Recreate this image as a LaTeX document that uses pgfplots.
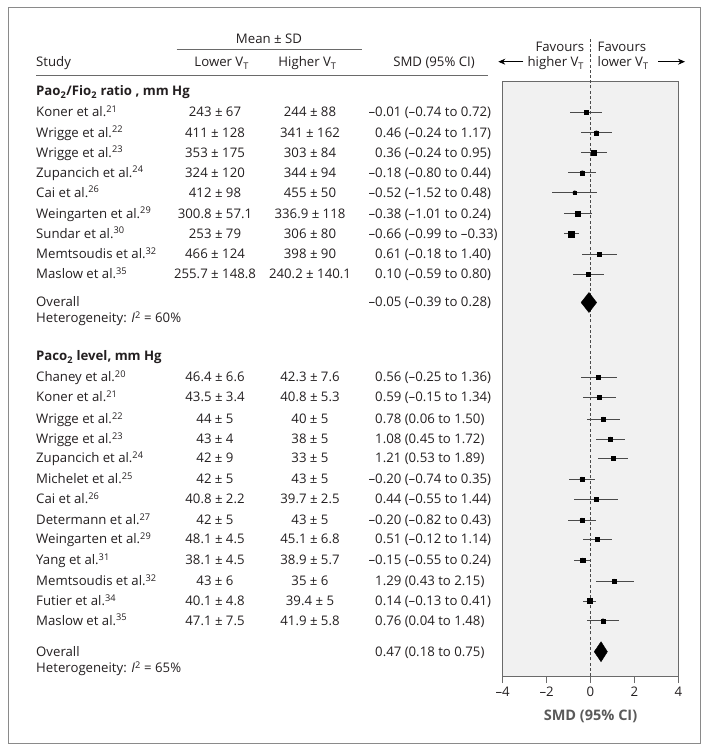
\documentclass[border=0pt]{standalone}
\usepackage{pgfplots}
\pgfplotsset{compat=1.18}
\usepackage{pgfplotstable}
\usepackage{fontspec}
\setmainfont{Open Sans}
\usetikzlibrary{arrows.meta}
\definecolor{txt}{HTML}{231F20}
\definecolor{frame}{HTML}{8A8A8A}
\definecolor{panel}{HTML}{F1F1F1}
\definecolor{ci}{HTML}{4A4A4A}
\definecolor{rule}{HTML}{6A6A6A}
\definecolor{lab}{HTML}{5A5A5A}

% y = pixel row of the study (drawn downward), m = point, lo/hi = CI ends, s = half side of square
\pgfplotstableread{
y m lo hi s
112.3 -0.20 -0.93 0.54 2
132.7 0.27 -0.45 0.99 2
152.7 0.16 -0.45 0.77 2.4
172.7 -0.37 -1.01 0.25 2
192.7 -0.72 -1.74 0.31 1.8
213.7 -0.57 -1.21 0.05 2.3
233.7 -0.87 -1.21 -0.51 3
254.3 0.40 -0.37 1.22 2
274.3 -0.10 -0.80 0.62 2
}\pao

\pgfplotstableread{
y m lo hi s
377.3 0.36 -0.45 1.19 2
397.3 0.39 -0.36 1.16 2
419.0 0.58 -0.16 1.34 2
439.0 0.90 0.25 1.56 2
458.3 1.03 0.33 1.71 2
479.0 -0.39 -0.96 0.19 2
499.3 0.25 -0.77 1.27 1.8
520.0 -0.39 -1.01 0.25 2
539.3 0.31 -0.33 0.96 2
560.0 -0.36 -0.75 0.04 2.3
581.0 1.08 0.24 1.97 1.8
601.0 -0.05 -0.34 0.24 2.5
620.7 0.57 -0.17 1.30 2
}\paco

\newcommand{\srow}[5]{%
 \node[anchor=base west,inner sep=0pt] at (36,{-(#1+4.6)}) {#2};
 \node[anchor=base,inner sep=0pt] at (215,{-(#1+4.6)}) {#3};
 \node[anchor=base,inner sep=0pt] at (310,{-(#1+4.6)}) {#4};
 \node[anchor=base west,inner sep=0pt] at (375,{-(#1+4.6)}) {#5};
}
\newcommand{\negm}{\llap{–}}
\newcommand{\VT}{V\textsubscript{T}}
\newcommand{\supr}[1]{\textsuperscript{#1}}

\begin{document}
\begin{tikzpicture}[x=1pt,y=1pt,font=\fontsize{13.2}{15.8}\selectfont,text=txt]
\useasboundingbox (0,0) rectangle (709,-752);
\draw[frame, line width=1.3pt] (8.3,-7.3) rectangle (700.7,-743.3);

\begin{axis}[at={(502.7pt,-676pt)}, anchor=south west, scale only axis,
  width=175.6pt, height=594.3pt,
  xmin=-4, xmax=4, ymin=-676, ymax=-81.7, clip=false,
  axis background/.style={fill=panel},
  axis line style={draw=rule, line width=0.8pt},
  ytick=\empty, xtick={-4,-2,0,2,4}, xticklabels={–4,–2,0,2,4},
  tick align=outside, xtick pos=bottom, major tick length=7pt,
  tick style={rule, line width=0.8pt},
  xticklabel style={text=txt, font=\fontsize{13.2}{15.8}\selectfont},
  /pgf/number format/assume math mode=true]
  \draw[ci, line width=0.7pt, dash pattern=on 3pt off 2.2pt] (axis cs:0,-676) -- (axis cs:0,-38);
  \addplot[only marks, mark=none, ci, forget plot,
    error bars/.cd, x dir=both, x explicit, error mark=none,
    error bar style={draw=ci, solid, line width=0.8pt}]
    table[x=m, y expr=-\thisrow{y}, x error minus expr=\thisrow{m}-\thisrow{lo}, x error plus expr=\thisrow{hi}-\thisrow{m}] {\pao};
  \addplot[only marks, mark=none, ci, forget plot,
    error bars/.cd, x dir=both, x explicit, error mark=none,
    error bar style={draw=ci, solid, line width=0.8pt}]
    table[x=m, y expr=-\thisrow{y}, x error minus expr=\thisrow{m}-\thisrow{lo}, x error plus expr=\thisrow{hi}-\thisrow{m}] {\paco};
  \addplot[scatter, only marks, mark=square*,
    scatter/use mapped color={draw=black, fill=black},
    visualization depends on={\thisrow{s} \as \pms},
    scatter/@pre marker code/.append style={/tikz/mark size=\pms}]
    table[x=m, y expr=-\thisrow{y}] {\pao};
  \addplot[scatter, only marks, mark=square*,
    scatter/use mapped color={draw=black, fill=black},
    visualization depends on={\thisrow{s} \as \pms},
    scatter/@pre marker code/.append style={/tikz/mark size=\pms}]
    table[x=m, y expr=-\thisrow{y}] {\paco};
  \addplot[fill=black, draw=black] coordinates {(-0.43,-302.5) (-0.07,-292.5) (0.28,-302.5) (-0.07,-312.5)} -- cycle;
  \addplot[fill=black, draw=black] coordinates {(0.17,-651.7) (0.48,-641.7) (0.77,-651.7) (0.48,-661.7)} -- cycle;
\end{axis}

% header
\node[anchor=base,inner sep=0pt] at (269,-43.5) {Mean ± SD};
\draw[rule, line width=0.8pt] (176.7,-49.3) -- (361.7,-49.3);
\node[anchor=base west,inner sep=0pt] at (36,-66.7) {Study};
\node[anchor=base,inner sep=0pt] at (221.7,-66.7) {Lower \VT};
\node[anchor=base,inner sep=0pt] at (307.5,-66.7) {Higher \VT};
\node[anchor=base,inner sep=0pt] at (434,-66.7) {SMD (95\% CI)};
\draw[rule, line width=0.8pt] (36,-75) -- (487.7,-75);
\node[anchor=base east,inner sep=0pt] at (584.3,-51.7) {Favours};
\node[anchor=base east,inner sep=0pt] at (584.3,-66.7) {higher \VT};
\node[anchor=base west,inner sep=0pt] at (597.5,-51.7) {Favours};
\node[anchor=base west,inner sep=0pt] at (597.5,-66.7) {lower \VT};
\draw[-{Stealth[length=7pt,width=6pt]}, black, line width=0.8pt] (523.3,-61.7) -- (498.3,-61.7);
\draw[-{Stealth[length=7pt,width=6pt]}, black, line width=0.8pt] (658.3,-61.7) -- (685,-61.7);

% section 1
\node[anchor=base west,inner sep=0pt] at (36,-95.7) {\textbf{Pao\textsubscript{2}/Fio\textsubscript{2} ratio , mm Hg}};
\srow{112.3}{Koner et al.\supr{21}}{243 ± 67}{244 ± 88}{\negm0.01 (–0.74 to 0.72)}
\srow{132.7}{Wrigge et al.\supr{22}}{411 ± 128}{341 ± 162}{0.46 (–0.24 to 1.17)}
\srow{152.7}{Wrigge et al.\supr{23}}{353 ± 175}{303 ± 84}{0.36 (–0.24 to 0.95)}
\srow{172.7}{Zupancich et al.\supr{24}}{324 ± 120}{344 ± 94}{\negm0.18 (–0.80 to 0.44)}
\srow{192.7}{Cai et al.\supr{26}}{412 ± 98}{455 ± 50}{\negm0.52 (–1.52 to 0.48)}
\srow{213.7}{Weingarten et al.\supr{29}}{300.8 ± 57.1}{336.9 ± 118}{\negm0.38 (–1.01 to 0.24)}
\srow{233.7}{Sundar et al.\supr{30}}{253 ± 79}{306 ± 80}{\negm0.66 (–0.99 to –0.33)}
\srow{254.3}{Memtsoudis et al.\supr{32}}{466 ± 124}{398 ± 90}{0.61 (–0.18 to 1.40)}
\srow{274.3}{Maslow et al.\supr{35}}{255.7 ± 148.8}{240.2 ± 140.1}{0.10 (–0.59 to 0.80)}
\srow{301.7}{Overall}{}{}{\negm0.05 (–0.39 to 0.28)}
\node[anchor=base west,inner sep=0pt] at (36,-322.9) {Heterogeneity: \textit{I}\supr{2} = 60\%};

% section 2
\node[anchor=base west,inner sep=0pt] at (36,-360.7) {\textbf{Paco\textsubscript{2} level, mm Hg}};
\srow{377.3}{Chaney et al.\supr{20}}{46.4 ± 6.6}{42.3 ± 7.6}{0.56 (–0.25 to 1.36)}
\srow{397.3}{Koner et al.\supr{21}}{43.5 ± 3.4}{40.8 ± 5.3}{0.59 (–0.15 to 1.34)}
\srow{419.0}{Wrigge et al.\supr{22}}{44 ± 5}{40 ± 5}{0.78 (0.06 to 1.50)}
\srow{439.0}{Wrigge et al.\supr{23}}{43 ± 4}{38 ± 5}{1.08 (0.45 to 1.72)}
\srow{458.3}{Zupancich et al.\supr{24}}{42 ± 9}{33 ± 5}{1.21 (0.53 to 1.89)}
\srow{479.0}{Michelet et al.\supr{25}}{42 ± 5}{43 ± 5}{\negm0.20 (–0.74 to 0.35)}
\srow{499.3}{Cai et al.\supr{26}}{40.8 ± 2.2}{39.7 ± 2.5}{0.44 (–0.55 to 1.44)}
\srow{520.0}{Determann et al.\supr{27}}{42 ± 5}{43 ± 5}{\negm0.20 (–0.82 to 0.43)}
\srow{539.3}{Weingarten et al.\supr{29}}{48.1 ± 4.5}{45.1 ± 6.8}{0.51 (–0.12 to 1.14)}
\srow{560.0}{Yang et al.\supr{31}}{38.1 ± 4.5}{38.9 ± 5.7}{\negm0.15 (–0.55 to 0.24)}
\srow{581.0}{Memtsoudis et al.\supr{32}}{43 ± 6}{35 ± 6}{1.29 (0.43 to 2.15)}
\srow{601.0}{Futier et al.\supr{34}}{40.1 ± 4.8}{39.4 ± 5}{0.14 (–0.13 to 0.41)}
\srow{620.7}{Maslow et al.\supr{35}}{47.1 ± 7.5}{41.9 ± 5.8}{0.76 (0.04 to 1.48)}
\srow{651.7}{Overall}{}{}{0.47 (0.18 to 0.75)}
\node[anchor=base west,inner sep=0pt] at (36,-672.9) {Heterogeneity: \textit{I}\supr{2} = 65\%};

\node[anchor=base,inner sep=0pt,text=lab] at (590.5,-720) {\fontsize{14.5}{17}\selectfont\textbf{SMD (95\% CI)}};
\end{tikzpicture}
\end{document}
